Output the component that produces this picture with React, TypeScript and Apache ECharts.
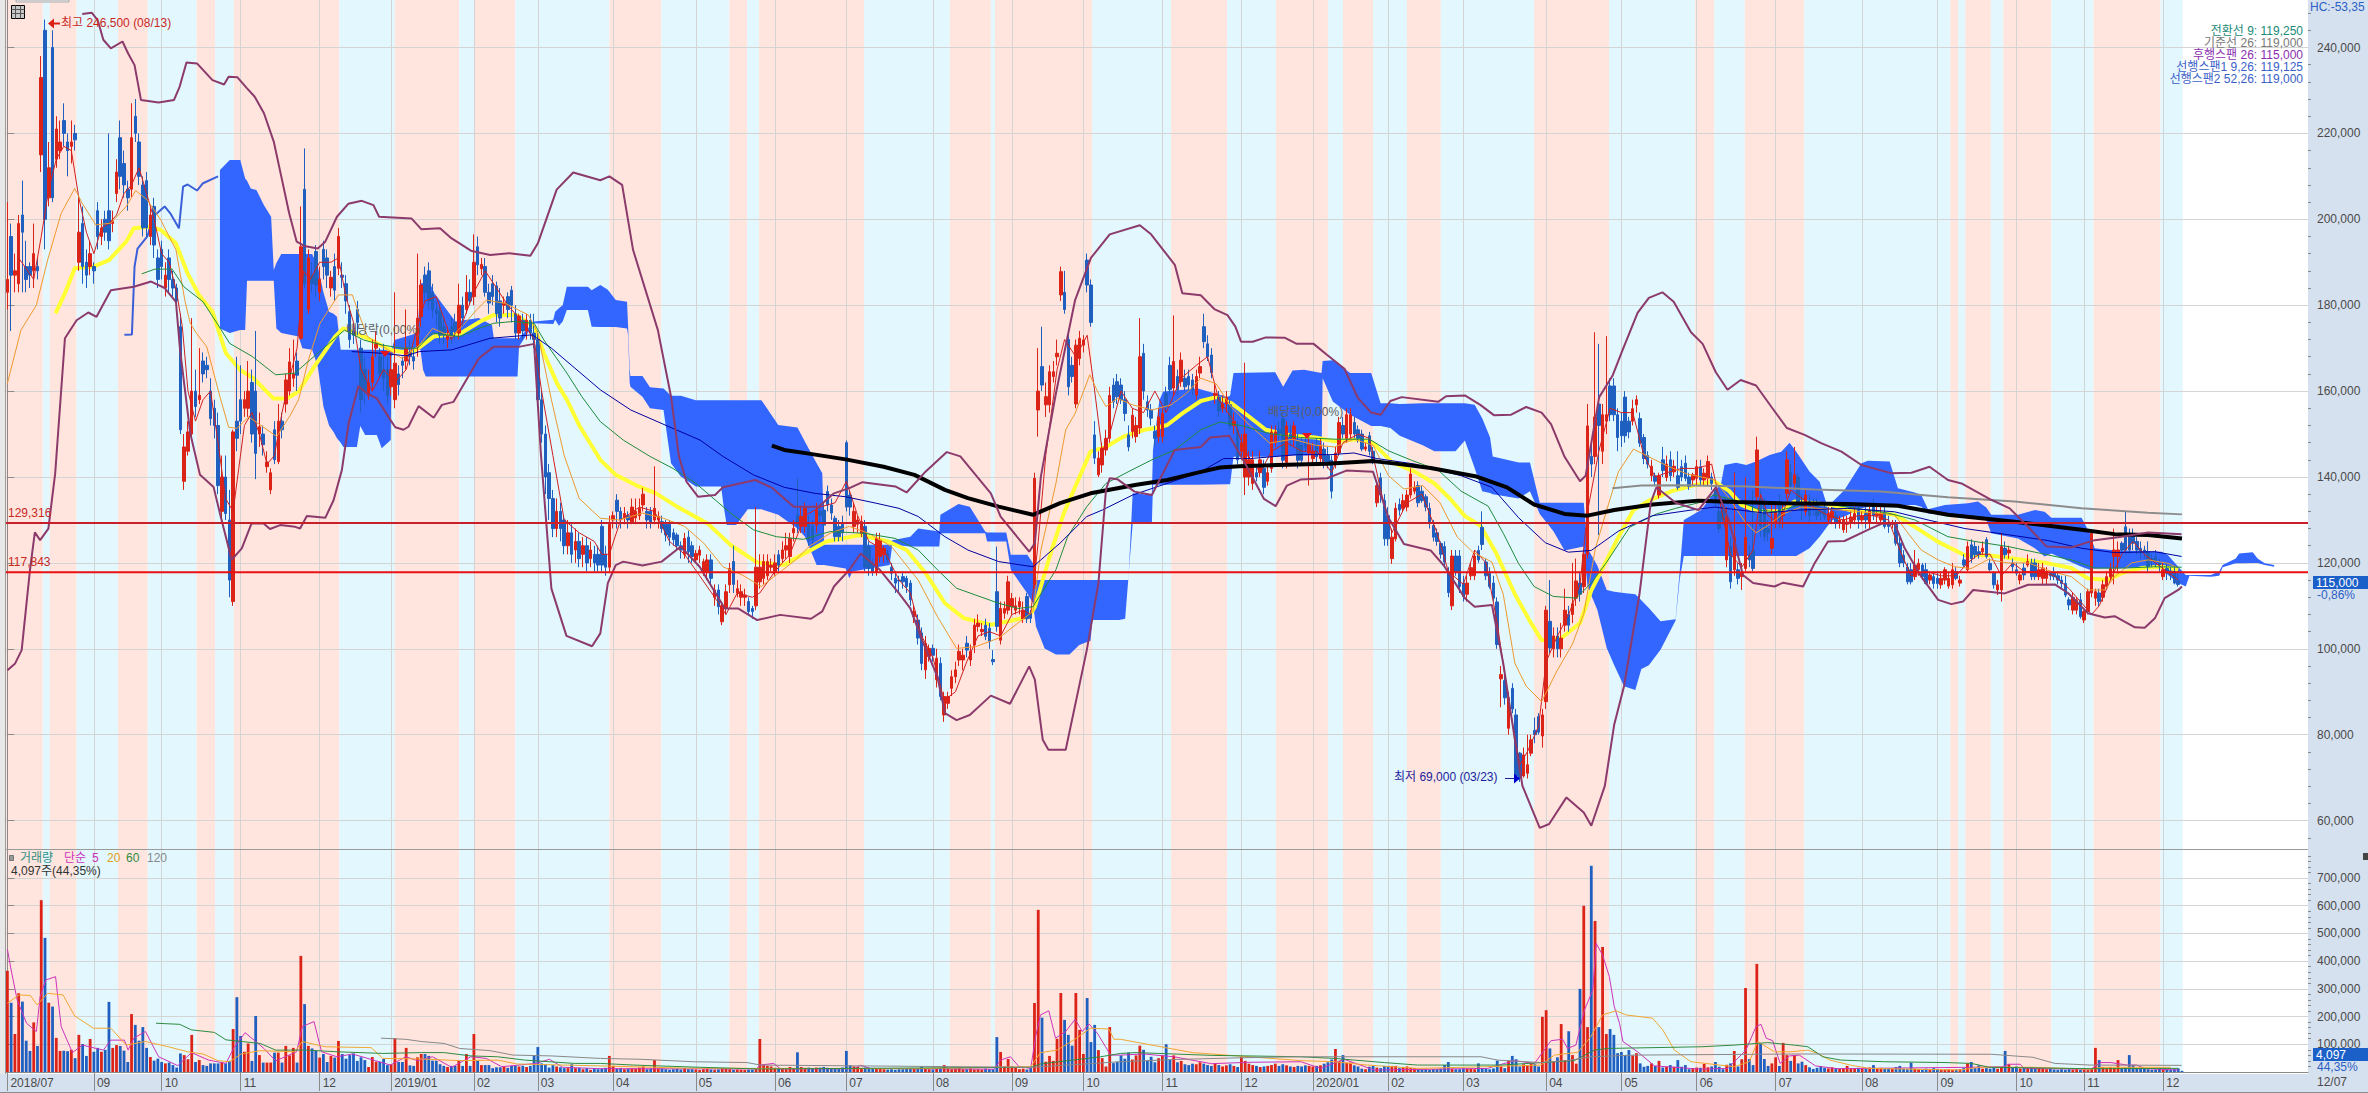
import React, { useEffect, useRef } from "react";
import * as echarts from "echarts";

const W = 2368, H = 1093, PLOT_L = 5.5, PLOT_R = 2308, SLOTS = 612;
const FONT = '"Liberation Sans","Noto Sans CJK KR",sans-serif';

const MONTH_LABELS = ["2018/07","09","10","11","12","2019/01","02","03","04","05","06","07","08","09","10","11","12","2020/01","02","03","04","05","06","07","08","09","10","11","12"];
const MONTH_INDEX = [0,23,41,62,83,102,124,141,161,183,204,223,246,267,286,307,328,347,367,387,409,429,449,470,493,513,534,552,573];
const PRICE_TICKS = [60,80,100,120,140,160,180,200,220,240];
const VOLUME_TICKS = [100,200,300,400,500,600,700];

// shaded periods: edges on the day axis, pink / blue alternating
const BAND_EDGES = [-0.4,9.4,11.3,18.4,29.4,37.3,50.3,55.2,60.2,88.2,103,120.1,124.2,135,160,173.8,191.9,196.6,199.8,227.7,250.5,261.4,262.5,288.3,309.3,324.2,337.2,351,355,363,372,381,405.8,425.7,448.6,453.7,461.8,477.6,516.4,518.5,520.4,527.2,530.5,543.3,554.5,572.3,578.2];

// candles in thousands: open, close, low, high
const CANDLES = [
[183,186,179,204],[196,187,174,199],[187,188,183,192],[185,199,183,201],[201,197,183,209],[189,186,183,195],[189,187,184,190],[188,192,184,199],[189,188,186,191],[215,233,211,238],
[244,200,193,246.5],[205,212,203,218],[240,205,204,244],[214,221,212,224],[216,218,214,223],[223,220,217,227],[218,216,210,220],[217,218,213,223],[220,218.5,216,222],[190,197,188,205],
[199,189,185,203],[190,187,184,193],[189,192,187,195],[189,188,185,190],[202,196,193,204],[196,198,194,200],[200,197,195,202],[202,195,193,220],[199,199.5,197,202],[206,211,204,214],
[219,210,207,223],[213,208,205,216],[207,205,202,209],[207,219,205,227],[224,220,218,228],[218,210,208,220],[208,198,196,210],[209,198,196,211],[196,201,194,203],[203,194,191,205],
[191,186,184,193],[193,189,186,195],[184,187,182,190],[191,186,183,193],[186,184,182,188],[184,181,178,185],[175,151,150,178],[139,147,137,150],[146,150.5,145,153],[150,160,149,177],
[160,156.4,154,165],[158,159,157,170],[167,164,162,169],[166,165,163,168],[160,153.6,152,163],[156,152,149,158],[152,138,136,155],[132,140,130,145],[140,131.5,130,145],[130,116,112,137],
[111,150.5,110,151],[153,149,146,168],[158,153,150,166],[156,158,154,160],[156,160,154,167],[162,150,148,165],[160,145.5,139.5,174],[150,151.7,147,155],[150,147.5,145,152],[142.4,143.5,141,146],
[137,141,136,142],[151,144,143,153],[143.6,153,143,157],[153,151,149,155],[157,162.6,155,164],[160,166.8,159,170],[163,164,161,172],[167,163.7,160,169],[172.3,193.6,172,203],[207,185,184,216.5],
[179,191,178,193],[187,185,183,190],[192.5,184.7,182,194],[183,186,181,189],[193,189,186,195],[191,187,184,193],[184,186.5,182,188],[189,183.5,181,192],[188.6,196,187,198],[187,186.5,184,190],
[185,181,178,187],[178.5,172,170,180],[174,173,171,176],[179,176,173,181],[170,158,155,172],[165,160,157,168],[159,162,158,165],[162,168,160,172],[170,171,168,174],[168,164,163,170],
[165,163,160,171],[165,159,157,168],[161,165,159,169],[158,166.5,156,183],[164,161.5,159,166],[167,166,163,168],[167,170,165,179],[169,168,166,172],[168,167,165,170],[170.4,177,168,192],
[177.3,184.7,175,186],[187,183,181,189],[188,181,179,190],[183,179,177,185],[179,178,175,181],[178.5,173,171,180],[175,173,171,177],[172,173,170,175],[175,173,171,177],[176,174,172,178],
[173.5,180,172,185],[180,177,175,182],[179,183,178,187],[183,181,180,186],[182,190,180,196.5],[193.6,189.4,187,196],[188.5,189.5,187,191],[189,183,182,191],[183,180.5,178,185],[185,182,180,187],
[184.5,178,176,185.5],[181,177,175,184],[180,180.5,178,182],[182,179,177,183],[183.5,180,176,184.5],[178,173.5,172,180],[173.5,177.5,172,178],[176.5,174,172,178],[174,176.5,172,178],[176.5,173.5,172,178],
[173.5,172,170,178],[172,158,156,174],[158,150,148,160],[150,140,136,152],[141,135,130,143],[135,128,126,137],[128,132,126,135],[132,128,125,134],[130,124,122,131],[124,127,122,130],
[127,122,120,129],[123,125,120,128],[125,121,119,127],[122,124,119,126],[124,120,118,126],[121,123,119,125],[122,120,118,124],[122,119.5,118,124],[128.5,119.5,118,130],[122,119,117,124],
[119,129,118,131],[130,131,128,132],[134.6,132,128,136],[132,130,128,133],[130.5,131.5,129,133],[131,130,128,132],[129.5,133,129,135],[130.5,132,129,135],[131,132.7,130,135],[133.5,136,132,137.5],
[132,130,128,133],[132,129.5,128,133],[130,132.7,129,142.5],[130,130.8,128,132],[129.6,128,127,131],[129,126.5,125,130],[129,126,124,130],[127,125.4,124,128],[126.5,124,123,127],[124,123,121,125],
[122,125.7,121,127],[126,122.6,120,127.5],[124,121.5,120,125],[120.7,122.2,120,123],[121.8,123,120,124],[118,120.3,117,121],[118,120.7,116,122],[120.7,116.4,115,122],[112,113.7,110,115],[113.7,109.8,108,115],
[106.3,110,105.5,111],[109.4,113.3,108,115],[114.9,118.7,113,120],[120.3,115,113,124],[113,114,112,116],[112,113.3,110,115],[112,112.5,110,114],[111,108.7,108,112],[109.4,108.7,107,110],[110,119,109,133],
[115.6,119,114,122],[116.4,120.3,115,122],[117,120.3,116,122],[119,119.5,118,121],[118,120,117,122],[121.9,119.5,118,123],[121,123,120,125],[123,124,121,127],[121.5,125.7,120,127],[127,128,125,130],
[131.2,128.8,127,139.7],[128.5,130.8,127,133],[128.5,132.7,127,134],[129.2,125.3,124,131],[128.5,125.3,124,130],[128.8,132.3,127,134],[132,131,129,133],[132.3,128.8,127,134],[136.6,133.5,132,138],[133.5,131.6,130,135],
[130.4,126.1,125,131],[128.5,126.1,125,130],[129,127,125,131],[148,133,132,148.5],[135.8,133,131,137],[128.5,132,127,134],[129,130,127,131],[126.9,129.6,126,131],[128.5,119,118,130],[123.8,118.7,117,125],
[119.9,118,117,121],[118,125.7,117,127],[121.5,125.3,120,127],[121.9,123.4,120,124],[122.2,120.7,120,123],[119,117.6,116,120],[116.4,115.3,113,118],[116,115.8,113,117],[116.8,115.6,114,118],[116.4,114.5,113,117],
[115.3,111.4,110,116],[107.5,108.7,106,110],[106.7,102.5,101,108],[103.7,96.6,95,105],[95.1,101.3,93,103],[98.2,100.1,97,101],[100.1,98.5,97,101],[92.8,97.8,91,100],[96.6,88.9,88,98],[84.6,88.9,83,90],
[87.3,88.9,86,90],[90.8,93.5,89,95],[93.5,95.1,92,97],[97.4,99.4,96,101],[97.4,98.5,95,100],[101.3,99.7,98,103],[97.4,99.4,96,101],[100.9,105.5,99,107],[105.2,106,104,108],[104,104.5,103,106],
[105.5,102.9,102,107],[104.8,101.7,100,106],[97.5,97,96.2,99.7],[113.3,105.2,104,123.8],[102,109.4,101,111],[108.3,109.4,107,111],[109,115.6,108,117],[109.8,111.7,108,113],[109,110,108,112],[109.8,111,108,112],
[107,109,106,111],[112.2,107,106,113],[108.3,107.1,106,109],[115,139.7,114,141],[155.6,160,149.4,170],[165.7,161.4,160,175],[156.8,158.7,154,162],[156.8,164.5,155,166],[163.4,164.5,162,167],[168,168.8,166,172],
[182.4,187.8,181,189],[183,179,178,188],[172,161,159,174],[166,163.4,162,168],[157,170.7,156,172],[167.6,172.3,166,174],[170.7,171.9,169,173],[190.5,184.7,183,192],[184.7,176,175,186],[149.8,144.4,143,153],
[140.5,144.4,140,146],[142.8,146.7,141,148],[146.3,149,145,151],[149,159,148,161],[161.4,157.5,156,163],[162.2,158.7,157,164],[161.4,158,157,163],[158,154.8,153,160],[149.8,147,146,152],[150.6,154.4,149,156],
[149.4,152,148,154],[151.4,168,150,177],[168.8,160,158,171],[157.5,155.6,154,159],[155.6,153.7,152,157],[150.6,149,147,152],[149.4,154,148,156],[149.4,154.8,148,156],[159.5,156.4,155,161],[166,160.3,159,168],
[160.7,166.9,159,177.6],[163.4,160.3,159,165],[162.2,167.2,161,169],[163,161,160,165],[163.4,161.4,160,165],[162.6,160.3,159,164],[159.1,163.4,158,165],[164.2,165.7,163,168],[175,171.5,170,178],[171,168,167,173],
[168.4,164.3,163,170],[159,159.5,157,162],[158.6,155.4,154,160],[156,157,155,159],[157,158.6,155,160],[156.8,151.9,151,158],[152,153,150,155],[151,144,143,153],[146,148,144,150],[140,150,135.8,166.6],
[140,144,138,146],[138.5,144,137,146],[141,140,139,143],[141,144,140,146],[142,137.6,136,144],[139,141,138,143],[142,150.5,141,152],[148,150.5,147,152],[151,150,148,153],[153.6,143.9,142,155],
[143.4,151.9,142,153],[150,149,147,152],[148.8,151.9,147,153],[148.3,143.9,142,150],[147.4,143.9,143,149],[147.9,147,146,149],[145.6,147.4,138,149],[144.3,146,143,148],[147.4,144.7,143,149],[144.3,147.4,143,149],
[146.5,143,142,148],[145,143,142,147],[143.9,136.7,135,145],[143,145.6,142,147],[145.6,152.7,145,154],[152,150,149,154],[149,154.5,148,156],[150,154.5,149,156],[152.7,150,149,154],[151,149,148,152],
[150,146.5,146,151],[146.5,147,146,148],[149.6,146,145,150.5],[146,144,143,147],[134,138,133,139],[139.8,135.8,134,141],[134.5,125.6,124,136],[131,125.6,124,133],[121,126,119.8,128],[125.6,132.7,125,134],
[133.6,132.3,131,135],[132.7,134.5,132,136],[133,135.8,132,137],[135.8,140.7,135,142],[136.7,137.6,136,139],[138,134,133,139],[136.7,134.5,134,138],[135.4,133,132,136],[132.7,129.2,128,134],[128.7,126,125,130],
[127,125,124,128],[124.5,122,121,125],[123.8,120.2,119,125],[117.6,113.1,112,119],[110,121.6,109,123],[121.6,118,117,123],[121.6,114.5,113,123],[115.3,112.2,111,117],[112.7,115.3,111,117],[117,118.9,116,120],
[117,121.6,116,123],[122.9,120.7,120,124],[128.3,124.3,123,132],[120.2,117,116,121],[117.6,114.5,114,119],[115.3,111.8,111,117],[110.9,101,100,112],[93,94,86.4,96],[92.6,88.6,87,94],[81.5,88.6,80,90],
[90.8,86,85,92],[84.6,70.4,70,86],[75.7,69.9,69,76],[70.4,75.3,70,77],[71,73,69.8,80],[75.7,78.8,75,80],[81,80,78,84],[84.2,80.6,80,85],[79.7,84.6,77,86],[87.7,109,86,110],
[106.4,100.2,99,116],[100,103,98,105],[103,100,98,105],[100,102.5,98,106],[105.5,109,104,114],[108,105.5,104,110],[108,110.5,106,120],[111.8,115.8,110,121],[115.3,112.7,111,118],[114.5,122,113,123],
[122,151.9,121,157],[144.8,143,140,148],[144.8,154,143,173.7],[157,152,126.5,171],[146,154.5,143,157],[153,154.5,150,172.8],[161.2,154.5,153,163],[161.2,154.5,153,163],[154.5,149.2,146,156],[153,149.6,147,155],
[158.6,149.6,148,160],[153,150.5,149,154],[153,155.9,152,158],[156.8,158,155,159],[153.6,147.9,147,155],[149.2,144.3,143,150],[145,143,142,146],[140.3,142.5,139,144],[140.3,139,138,141],[135.8,140.3,135,141],
[144,141.5,140,147],[139.9,143,139,145],[144,140.3,139,146],[141.2,142.5,140,144],[140.3,137.6,137,146],[142.4,140,139,144],[143.2,139.7,139,145],[140,137.8,137,141],[139.3,140.5,138,141],[139.7,142.4,138,144],
[142.4,139.3,138,144],[139.3,140.9,138,142],[139.7,143.6,138,145],[140,138.5,137,141],[137,135,133,138],[132,128,127,134],[133,130,129,135],[120.7,130.8,119,133],[123.8,115.6,114,126],[118.4,126,117,141],
[118.4,116.4,115,120],[116.8,117.6,113.7,120],[118.7,126,118,140],[122,120.7,119,124],[123,118.7,118,137],[135.4,146.3,134,149.4],[135,128.5,126,137],[133.9,126.1,125,135],[128,127,125,130],[123.4,125.7,122,134],
[129.2,132,128,134],[134,130,128,136],[131,132,128,134],[136.2,144,135,146],[141,138,136,143],[138.5,140.5,137,147],[140,134.3,133,141],[134,133,130,136],[132,135.8,131,137],[134.3,131,129,136],
[133.9,132.4,131,135],[133.9,131,130,135],[132,131.5,130,133],[132.3,130.8,130,134],[130,131.5,129,133],[130.5,132,129,133],[131,129.2,128,132],[129.2,130,128,131],[127.7,130,127,131],[129,129.5,127,131],
[129.2,130.7,128,132],[130,131.5,129,133],[132.3,130,128,133],[130,131,129,132],[131.5,130,128,133],[129.2,132.3,128,134],[133,131,130,135],[131,131.5,129,133],[130,131.5,129,133],[131.5,128.5,128,133],
[129,128.5,127,131],[129,129,128,130],[129,124.6,124,130],[124.6,120,119,126],[121.8,120,119,123],[119,115.6,115,120],[118.4,115.6,115,120],[116.8,119.5,116,123],[118.4,119.9,117,121],[119.5,116.8,116,120],
[118.4,115.2,115,120],[116,117.2,115,118],[116.8,115.2,114,118],[116.4,115.2,114,118],[114.9,116.4,114,118],[116,118.4,115,119],[114.6,116.4,114,118],[114.9,118.4,114,120],[118,116.4,116,119],[115.3,116,114.5,117],
[120.7,119.5,119,122],[118.4,123.8,118,125],[124.2,121,120,125.5],[123.8,121.9,121,125],[122.6,121.9,121,124],[122.6,123.4,122,125],[125.4,121.5,121,126],[119.9,118.4,118,121],[117.6,114.9,114,118],[113.7,114.9,112.5,116],
[113.7,123.8,111,127],[123.4,121.9,121,125],[122.3,123,121,124],[120,119.1,118,121],[118.4,117.6,117,120],[116,117.2,115,118],[118.8,117.2,116,120],[119.5,120.3,119,122],[120,116.8,116,121],[120,116.8,116,121],
[116.8,118.4,116,120],[116.4,118.8,115,120],[116.4,118,115,119],[117.6,117,116,118],[117.6,116.8,116,119],[117,116,115,118],[116,115.2,114,117],[115.2,112.5,112,117],[111.4,110.2,109,112],[109,112,108,113],
[109,111.4,108,112],[111.4,107.5,107,113],[106.7,108.7,106,109],[108.7,113.3,108,114],[113,126.9,112,127],[111.8,113.3,110,114],[113,111,110,114],[112,114.9,111,116],[114.5,116.8,114,118],[116.8,118.7,116,120],
[121.5,123,115,128],[121.5,123,118,125],[124.6,123,122,125],[128.4,123,122,132],[126.9,123,122,128],[126.5,124.6,123,128],[125,123,122,126],[123.4,122.3,121,125],[123,122.5,121,124],[122.6,119.1,118,125],
[121,120.5,119,122],[121.5,120.3,119,123],[120,119.5,118,121],[116.8,118.4,116,120],[118.7,117.6,116,120],[118,117.2,116,119],[118,115.3,115,119],[115.8,115,114.5,117.5],
];

// volume in thousands of shares, one value per candle
const VOLUME = [
365,250,137,284,254,113,76,179,94,620,484,250,236,123,76,77,75,80,50,134,
101,58,119,73,87,73,80,253,87,97,94,77,36,209,170,113,162,87,54,41,
48,36,31,34,25,16,67,61,46,134,36,43,25,22,31,31,31,35,31,40,
155,270,130,73,103,40,202,61,34,34,34,70,70,34,94,60,87,34,419,245,
94,85,78,52,65,36,58,52,112,65,48,61,67,40,53,43,18,54,37,37,
47,25,28,122,36,36,87,24,22,53,65,65,58,41,41,28,22,18,22,22,
41,22,65,22,137,43,25,25,25,14,17,17,20,15,22,22,20,22,18,22,
61,90,31,28,16,25,20,17,14,14,28,14,15,10,14,8,12,10,12,15,
58,22,12,14,10,12,14,12,16,20,10,12,43,12,12,10,8,10,12,9,
14,10,10,9,7,10,12,9,8,9,14,12,10,8,9,8,7,8,8,10,
119,25,22,20,15,13,13,10,18,14,71,18,15,16,14,16,16,18,15,14,
12,14,16,76,24,20,18,14,16,14,13,12,14,10,9,10,8,10,10,12,
14,12,13,19,12,10,9,12,14,25,12,10,12,14,10,10,12,9,10,8,
12,10,10,126,72,20,47,20,15,10,12,9,14,249,585,196,37,58,40,120,
285,188,134,95,285,152,65,267,108,170,79,50,20,162,32,37,60,48,70,45,
60,95,80,40,55,35,50,60,100,45,60,35,40,28,25,30,28,35,30,25,
22,30,25,20,24,28,22,18,55,40,30,25,22,18,20,22,25,30,22,28,
24,20,18,22,20,24,22,20,22,24,30,35,45,83,40,61,34,34,24,20,
12,10,19,22,16,14,22,22,22,22,14,18,20,15,14,10,9,10,8,10,
10,12,25,36,12,10,10,13,12,12,10,31,13,12,10,13,41,20,14,41,
58,46,20,28,25,31,28,20,199,223,85,37,53,173,43,147,61,30,300,600,
162,744,545,162,451,137,155,134,68,72,61,79,60,68,31,19,22,31,22,40,
16,19,25,19,43,19,25,10,14,16,15,29,17,20,36,19,10,26,31,76,
20,46,303,47,25,390,101,47,22,31,53,22,105,61,40,61,31,37,25,17,
11,15,20,15,13,17,14,12,14,22,12,14,15,14,12,16,25,14,15,13,
14,12,18,22,12,10,34,12,10,9,12,10,14,11,8,9,10,8,9,10,
14,31,36,14,24,12,14,12,16,12,18,76,28,18,20,13,15,14,18,12,
14,11,10,14,9,8,10,8,10,9,13,8,9,7,12,87,43,18,13,18,
15,43,14,16,61,25,13,15,11,10,8,9,13,8,9,8,10,13,4.1,
];

const BOLL_UPPER = [[19.9,247.8],[22.4,248.1],[24,246.4],[25.5,241.8],[27.5,239.8],[30.6,241.4],[32.1,238.6],[33.8,235.9],[35.5,227.8],[40.2,227.2],[44.3,227.8],[45.8,230.9],[47.6,236.5],[50.4,236.3],[54.5,232.4],[57.6,231.4],[58.8,233.2],[61.1,233.1],[63.7,230.5],[65.7,228.6],[68.2,224.7],[70.8,218.1],[72.8,210],[74.9,201.4],[76.9,194.8],[78.9,193.8],[82.5,193.2],[84.5,194.8],[87.6,200.6],[90.6,203.6],[94.2,204.3],[97.3,203.3],[98.8,200.6],[107.4,200.2],[110,197.7],[115,197.9],[118,195.6],[123.2,192.7],[128.3,191.7],[133.4,192.1],[139,191.5],[141,194.4],[146,206.9],[150.4,210.9],[157.6,209.1],[160,210],[163.4,208],[166.3,192.9],[172.9,174.2],[176.4,158.7],[178.5,144.8],[180.5,138.9],[183.6,135.4],[188.1,135.8],[190.2,137.6],[198.8,139.3],[203.4,137.4],[209,133.1],[215.6,133.1],[219.7,136.2],[223.8,137.4],[227.3,138.8],[236,137.8],[239,136.4],[244.1,141.3],[249.7,145.8],[253.3,144.8],[261.4,136.2],[264,130.8],[271.6,122.6],[273.1,124.6],[274.7,140.1],[278.7,159.5],[283.8,181.2],[288,191],[293,196.5],[301,198.6],[304,196.5],[307.2,192.9],[310.3,189.4],[312.3,182.8],[317.2,182.3],[320.8,179.1],[324.3,177.7],[326.4,175],[327.9,171.5],[331,171.5],[334.5,172.5],[339.6,172.4],[342.7,171],[347.2,171],[350.8,168.4],[355.4,165.2],[358.9,158.5],[362.5,155],[365,154.5],[367.6,157.7],[370.6,158.6],[380.3,157.5],[382.4,158.8],[387.4,159],[391.5,156.8],[395.1,154.4],[399.7,154.5],[403.7,156.3],[407.8,155],[410.3,152.3],[413.9,144.7],[418,139],[419.5,140.3],[423.1,158.6],[426.6,163.5],[429.2,169.3],[433.3,178.2],[436.3,181.7],[439.9,183],[442.9,180.8],[447.5,173.7],[450.6,171],[454.1,164.4],[457.2,160.3],[460.7,162.6],[464.8,161.3],[468.9,156.3],[473,151.4],[477.7,149.8],[482.1,147.9],[487.5,145.9],[492.8,142.8],[500.7,140.9],[506.1,141],[510.9,142.4],[515.8,139.3],[519.4,138.5],[527.3,134.7],[532.2,132.7],[537.1,128.4],[542,123.8],[548.6,123.6],[554.8,125.3],[561,126],[569,127.1],[577.9,126.7]];

const BOLL_LOWER = [[0,95],[2,96.5],[3.8,99.7],[6,118.3],[7.3,127.1],[8.7,125.3],[10.9,128],[12.7,140.8],[15.3,172.3],[18.4,176.5],[21.5,178.3],[23.7,177.3],[27.5,183.5],[33.6,184.3],[38.2,185.5],[41.8,184],[44.8,180.8],[45.9,169.6],[48.6,150.2],[51.2,140.5],[54.8,137.7],[56.5,131.5],[58.3,125.3],[59.6,120.7],[62.3,123.4],[64.9,129.2],[68.1,129.2],[69.8,127.9],[72.5,128.8],[76.5,128.4],[77.8,128],[79.6,130.9],[84.5,130.5],[86.7,134.6],[88.9,141.6],[90.7,152.5],[93.3,161.2],[95.5,159.5],[98.2,158.3],[101.8,153.3],[103.1,151.6],[105.3,151],[106.6,151.7],[109.3,156.5],[113.3,153.8],[115.5,156.8],[118.6,157.5],[121.7,162.2],[125.3,167.6],[129.2,170.3],[135.9,170.3],[140,171],[141.8,145.5],[144.6,114],[148.6,103],[155.4,100.6],[157.6,103.6],[159.6,115.3],[161.7,119.5],[163.7,120.3],[168.8,119.4],[173.9,120.3],[179,123.8],[184,119.1],[190.7,109.4],[194.2,109.4],[199.3,106.7],[205.4,107.9],[213.6,107],[216.6,108.7],[219.7,114.5],[223.8,118.4],[226.8,122.2],[231.9,118.4],[237,112.9],[240,109.4],[243.1,102.1],[247.2,93.5],[249.2,85],[252.3,83.4],[255.8,84.6],[261.4,89.1],[266.5,87.2],[271.6,95.9],[273.1,92.8],[275.2,78.8],[276.7,76.5],[281.3,76.5],[286.9,99.7],[290,115.3],[292,137],[293,139.7],[295,139.5],[299.6,136.6],[304.2,135.8],[310.3,146.3],[317.2,147],[319.7,149.2],[324.8,149.6],[329.4,142.5],[334,134.9],[337.1,133.2],[340.1,138],[343.7,139.4],[350.8,139.7],[355.9,141.5],[363,141.2],[367.1,130.5],[371.2,124.4],[378.3,122.9],[381.8,119.4],[387.4,111.8],[390,109.8],[394.6,110.2],[397.6,96.6],[400.7,78.8],[402.7,68.1],[407.3,58.3],[409.8,59.2],[414.4,65.4],[419,61.9],[421,58.8],[424.6,68.1],[427.1,82.4],[429.7,91.3],[433.8,112.7],[436.8,134],[438.3,137.6],[443.4,134],[449.5,132.3],[454.1,137.6],[457.7,129.6],[461.3,117.2],[464,115.3],[469.7,114.5],[472,115.4],[477.3,114.5],[480.4,120],[483.9,125],[488.3,125.1],[494.5,127.7],[498.1,129.1],[501.6,129.2],[504.3,123.4],[508.7,116.8],[513.2,111.4],[516.7,110.4],[519.8,111],[522.5,113.7],[530.9,112.9],[537.1,114.9],[544.2,115],[547.7,113],[553,108.3],[557.5,107.3],[560.1,107.6],[565.5,105],[568.1,104.9],[570.8,107.1],[573.4,111.8],[577,113.7],[578,114.5]];

const MA_YELLOW = [[12.8,178.1],[15.3,182.8],[17.9,188.6],[22.9,189],[27,190.5],[31.6,194.8],[33.6,197.9],[38.2,198.3],[40.8,197.5],[44.8,194.4],[47.9,187.4],[50.9,182.4],[54.5,178.5],[58.1,168.8],[61.9,164.9],[65.4,163],[70.7,158.3],[74.3,158.3],[77.4,159.9],[81.8,166],[87.1,172.7],[89.3,174.6],[94.7,172.7],[101.8,169.6],[107.1,168.8],[109.7,170.3],[113.3,172.7],[120.4,173.4],[125.7,176.2],[129.2,177.7],[135.4,177.7],[140,175],[142.6,168.8],[146.1,161.8],[148.7,158],[152,152],[157.6,144],[161.7,140.5],[167.8,137.8],[172.4,136.2],[178,133.1],[186.1,129.2],[192.2,124.2],[199.3,120.1],[206.5,119.5],[209.5,121.1],[213.6,123],[217.7,125],[226.8,126.5],[234,125],[239,123],[244.1,117.6],[249.2,110.6],[254.3,107.1],[261.4,105.6],[265.5,106.3],[271.6,107.5],[273.1,109.8],[277.7,123.4],[280.8,131.6],[287.9,145.9],[292,147],[296.6,149.4],[302.2,151],[305.2,151.4],[308.3,152.1],[312.3,154.8],[317.2,157.7],[321.3,158.6],[325.3,157.2],[329.4,154.5],[334.5,151],[341.6,149.6],[347.7,149.2],[352.8,148.3],[358.9,148.8],[363,147.9],[368.1,143.4],[374.2,141.2],[379.3,138.5],[383.4,135],[387.4,130.9],[391.5,128.7],[395.6,122.5],[400.7,112.7],[404.7,106.4],[407.8,102],[412.9,102.4],[418,106],[421,113.6],[424.1,118.9],[428.2,126],[432.2,132.3],[436.3,134.5],[442.4,136.7],[448.5,138.1],[453.6,139],[457.7,136.7],[460.9,133.5],[465.3,132],[471.5,132],[475,134.3],[480.4,133.9],[484.8,133.5],[491,132],[497.2,131.6],[501.6,131.2],[507,128.4],[513.2,124.9],[520.3,121.8],[526.5,121.8],[533.5,121],[542.4,119.9],[548.6,118.8],[553,116.4],[558.4,116],[561.9,117.6],[567.2,118.8],[572.6,119.1],[577,118.4]];

const MA_ORANGE = [[0,161.8],[3.6,174.2],[7.7,180],[10.7,190.5],[14.3,201.4],[17.9,207.2],[19.9,203.7],[23.5,198.7],[27.5,199.1],[31.6,203],[34.1,206.7],[37.2,204.5],[40.8,199.8],[44.8,192.9],[47.2,181],[48.6,175.8],[50.3,173.4],[53,170.3],[56.5,158.7],[58.8,151.6],[61,151.3],[64.1,154],[67.6,151.9],[71.6,149.4],[75.2,154.4],[77.4,158],[80,167.2],[83.1,175.8],[85.4,178.9],[88,182.4],[91.7,182.4],[93.7,177.3],[95.7,172.7],[99.8,170.4],[104.9,167.6],[109.5,170.7],[113,174.6],[118.1,172.7],[121.2,175.4],[124.7,178.9],[127.3,181.2],[132.4,180.4],[138.5,177.7],[141,173.5],[144.6,158],[148,145],[152,135],[157.6,130.4],[162.7,130],[168.8,131.6],[174.4,130.4],[180,128.5],[185.1,124.6],[190.2,119.1],[195.3,117.2],[200.4,114.5],[204.4,117.2],[209.5,120.7],[213.1,123.8],[218.7,126.9],[223.8,128.5],[228.9,126.9],[235,123.8],[242.1,116],[247.2,107.5],[252.3,100.1],[257.4,100.5],[263.5,102.5],[268.6,106],[272.6,108.7],[274.7,123],[278.7,138.5],[281.3,151],[283.8,154.8],[287.7,163.8],[290,159.5],[292,156.4],[295,158.3],[299.1,156.8],[304.2,155.6],[309.3,156.8],[313.4,159.5],[317.2,163],[321.3,161.7],[325.3,156.3],[330.4,151.9],[335.5,147.9],[341.6,148.8],[347.7,147.4],[352.8,147],[357.9,148.8],[363,147.4],[367.1,140.3],[371.2,137.2],[376.2,138],[380.8,134],[385.4,126],[389.5,122.5],[394.6,120.2],[397.6,112.7],[400.7,96.6],[403.7,91.3],[407.8,87.7],[411.9,94.9],[416,101.1],[419,108.2],[422.1,123.4],[425.1,132.3],[428.2,141.2],[432.2,146.5],[436.3,144.7],[441.4,142.5],[446.5,140.7],[453.6,139.4],[457.7,135],[461.8,129.6],[464.8,127],[467.9,128.7],[472,131.4],[476.8,133],[487.5,132.3],[501.6,131.2],[505.2,126.9],[508.7,123],[513.2,120.7],[517.6,119.1],[522,118.7],[526.5,120.8],[531.8,120],[537.1,120],[543.3,118],[548.6,116.8],[553,113.7],[557.5,113.7],[560.1,116.8],[564.6,120],[569,120.7],[574.3,119.9],[577,118.8]];

const MA_GREEN = [[35.7,187.3],[39.2,188.4],[43.8,188.4],[46.9,184.3],[52,180.8],[56,175.4],[59.1,171.1],[65.2,168],[71.3,163.8],[76.4,164.2],[80.5,167.3],[85.5,171.1],[89.6,174.2],[94.7,171.9],[99.8,170.7],[104.9,170],[109,170],[113,173.5],[120.2,172.7],[125.3,174.6],[129.3,175.8],[134.4,176.2],[140,175.8],[142.6,171.9],[148.7,164.2],[152.7,158.7],[157.6,152.9],[163.7,148.6],[170.8,144.8],[176.9,142],[183,138.5],[188.1,134.7],[192.2,131.6],[198.3,127.7],[204.4,126.1],[211.6,125.5],[218.7,127.3],[227.8,126.9],[236,125.7],[242.1,123],[247.2,118.4],[252.3,114.1],[257.4,112.5],[263.5,110.6],[268.6,109.4],[272.6,109.8],[278.7,118.4],[281.8,126.1],[286.9,133.1],[292,138.5],[298.1,141.3],[304.2,144],[310.3,146.3],[317.2,151],[322.3,152.8],[328.4,151.9],[335.5,150.1],[343.7,149.2],[352.8,148.8],[362,148.8],[367.1,146.1],[373.2,143.9],[380.3,141.6],[386.4,136.7],[393.6,133.2],[397.6,126.9],[401.7,119.8],[405.8,114.5],[410.9,112.2],[417,111.8],[421,115.3],[425.1,120.2],[431.2,128.3],[438.3,131.4],[443.4,132.7],[449.5,134],[453.6,135.8],[459.7,134.5],[465.8,132.3],[469.9,131.9],[476.8,133.6],[482.1,133.9],[499.9,131.6],[507,130],[515.8,126.1],[522.9,125],[531.8,123.8],[540.6,122.2],[548.6,120.7],[554.8,118.8],[562.8,118.8],[570.8,119.1],[577.9,119]];

const MA_NAVY = [[91.5,169.2],[99.8,168.8],[105.9,168.2],[109.5,169.2],[118.1,169.6],[128.3,172.3],[139.5,173.1],[144.6,170],[157.6,160.3],[165.7,155.6],[175.9,151.7],[184.1,148.6],[190.2,144.8],[198.3,140.5],[206.5,137.6],[214.6,136.2],[222.8,135.4],[230.9,133.9],[237,132.7],[242.1,130.8],[249.2,126.1],[255.3,123],[263.5,120.3],[272.6,119.1],[279.8,124.6],[286.9,130.8],[291,132.3],[299.1,135.8],[307.2,138.2],[317.2,141.2],[323.3,144.3],[330.4,144.3],[342.7,145.2],[351.8,145.2],[357.9,145.6],[364,144.3],[374.2,143],[386.4,140.3],[394.6,137.6],[401.7,130.5],[408.8,124.7],[414.9,122.5],[421,122.9],[428.2,127.4],[437.3,131],[447.5,132.3],[453.8,133],[467.1,131.6],[475.9,132.3],[489.2,132.7],[501.6,131.9],[510.5,130],[520.3,128],[529.1,126.9],[542.4,125.2],[551.3,123.4],[560.1,122.4],[570.8,122.6],[577.9,121.5]];

const MA_BLACK = [[203.2,147.3],[206.5,146.3],[212.6,145.5],[222.8,144.1],[232.9,142.4],[241.1,140.5],[249.2,137],[255.3,135.1],[263.5,133.1],[272.6,131.2],[279.8,133.9],[287.9,136.2],[300.1,138.2],[308.3,139.3],[317.2,141.2],[322.3,142.2],[327.4,142.5],[337.6,142.8],[350.8,143.1],[363,143.7],[370.1,143],[378.3,142.1],[390.5,140.1],[398.6,137.6],[405.8,133.6],[413.9,131.4],[420,131],[427.1,132.3],[437.3,133.6],[449.5,134.5],[459.7,134.2],[471.5,133.9],[489.2,133.7],[502.5,133.3],[515.8,131.2],[533.5,129.6],[551.3,127.7],[560.1,126.7],[569,126.5],[578,125.7]];

const MA_GRAY = [[426.6,137.4],[434.3,138],[444.9,138.1],[462.6,137.8],[480.4,137.1],[498,136.6],[515.8,135.3],[533.5,134.3],[551.3,132.7],[569,131.7],[578,131.3]];

const MA_RED = [[3,191],[7,186],[9,196],[11,207],[13,214],[15,217],[17,216],[19,205],[21,197],[23,192],[25,198],[27,199],[29,201],[31,206],[33,208],[35,212],[37,206],[39,200],[41,192],[43,190],[45,183],[46.5,175],[48,160],[50,153],[52,158],[54,160],[56,148],[58,135],[60,132],[61.5,142],[63,152],[65,155],[67,150],[69,143],[71,145],[73,155],[75,163],[77,170],[78.7,188],[80.5,186],[83,190],[86,190],[88,191],[90,182],[92,176],[94,165],[97,160],[100,165],[103,162],[106,165],[109,175],[111,181],[114,182],[118,172],[121,176],[124,183],[127,188],[130,184],[133,180],[137,176],[140,172],[142,160],[145,145],[148,130],[152,127],[156,125],[158,122],[160,122],[163,130],[168,133],[172,132],[176,125],[180,122],[184,117],[188,112],[191,108],[194,113],[198,112],[200,113],[204,118],[208,122],[212,131],[216,133],[220,134],[223,139],[226,131],[229,125],[233,123],[237,116],[240,113],[243,103],[246,98],[249,88],[252,90],[255,97],[258,103],[261,104],[264,103],[267,108],[270,109],[272,108],[274,125],[276,145],[279,165],[281,172],[284,168],[287,173],[289,160],[291,146],[293,150],[296,160],[299,156],[302,155],[305,160],[308,155],[312,163],[316,166],[319,168],[322,158],[326,153],[329,146],[333,141],[336,146],[340,148],[344,146],[348,146],[352,141],[355,148],[359,150],[362,149],[365,137],[368,127],[372,134],[376,136],[380,127],[383,118],[387,115],[390,123],[393,120],[396,106],[399,88],[402,73],[404,76],[407,82],[409,97],[412,103],[415,108],[418,115],[420,132],[423,146],[426,156],[429,155],[432,155],[435,145],[438,140],[441,141],[445,142],[449,142],[453,143],[455,135],[458,122],[461,119],[464,123],[466,136],[468,131],[471,129],[474,137],[477,135],[480,133],[484,131],[488,130],[492,131],[496,131],[500,130],[503,123],[506,117],[510,118],[514,117],[518,117],[521,120],[524,122],[527,122],[530,117],[533,120],[536,118],[540,118],[544,117],[548,114],[551,111],[554,108],[556,110],[559,116],[562,122],[565,125],[568,122],[571,120],[574,118],[577,116]];

const SPAN_LEAD = [[31.1,173.1],[33.1,173.2],[33.8,189],[34.6,193.2],[37.2,196],[38.7,200.6],[41.8,203],[43.3,201.4],[45.6,197.9],[46.7,207.6],[47.9,208.1],[50.4,206.7],[52,208.4],[56,210]];

// ichimoku cloud: day, upper edge, lower edge
const CLOUD = [[56.5,211.5,174.6],[59.1,213.8,173.5],[61.9,213.8,174.2],[63.2,209.5,174.2],[63.7,209,185.7],[64.7,207.2,185.7],[66.2,206.8,185.7],[68.2,203.3,185.7],[70.1,200.6,185.7],[70.8,188.2,185.7],[71.5,189.8,174.6],[72.8,191.9,173.5],[77.4,191.9,172.7],[78.4,191.9,170],[81,191.9,169.6],[82.5,189,165.7],[84,183,156.4],[85.5,178.5,152],[86.7,178,150.5],[87.6,177.3,149],[88.6,169.6,148],[89.3,169.6,147],[92.9,169.6,147],[93.8,169.6,151.9],[95.1,169.6,149.8],[98.2,169.6,149.8],[99.5,169.6,146.7],[101.9,169.6,148.6],[102.1,169.6,168],[102.9,171.9,169.6],[109,173.5,169.6],[109.8,185.1,169.6],[110.5,185.1,164.9],[111.2,187.4,163.4],[113.5,182.8,163.4],[119.1,176.2,163.4],[125.3,177,163.4],[128.8,175.4,163.4],[129.3,172.3,163.4],[135.6,172.3,163.4],[136,172.3,170.4],[140,176.2,175.8],[145.1,176.6,175.6],[145.6,178.5,176.6],[146.6,179.3,175.2],[147.6,180,176.2],[148.7,184.3,178.9],[154.3,184.3,178.9],[155.3,183.5,175],[157.6,184.7,174.9],[159.6,183.6,174.9],[161.7,181.2,174.9],[164.7,180.8,174.6],[165,175,173],[165.4,165,162],[165.6,163.5,161],[168.8,163.5,158.7],[170.8,160.9,156],[174.4,160.6,155.6],[176.4,158.9,143.2],[179,158.9,140.1],[183,157.9,137.8],[189.7,157.9,137.8],[190.4,157.9,133.1],[191.2,157.9,128.8],[193.7,157.9,128.8],[196.8,157.9,132.5],[200.4,157.9,132.5],[204.9,152.1,131.2],[210,151.5,128],[212,148.2,126.1],[215.1,143.2,119.5],[216.6,140.9,119.5],[217.1,124.2,119.5],[222.8,124.2,118.7],[223.8,124.2,116.4],[224.6,124.2,118],[234.5,124.2,119.5],[235.2,125.3,124.2],[240,126.1,123.8],[242.1,128,123.8],[247.7,127.3,123.8],[248,131.2,126.9],[252.8,133.7,126.9],[255.8,133.1,126.9],[259.9,127.3,126.9],[260.4,127.1,125],[265.5,127.1,125],[266.7,121.9,118.4],[271.1,121.9,112.9],[272.6,119.9,110.6],[273.4,116,105.2],[275.7,116,100.1],[278.7,116,98.7],[282.3,116,98.7],[284.9,116,100.9],[287.9,116,101.9],[288.4,116,106.7],[295.5,116,106.7],[297.1,116,107],[297.9,116,115.8],[298.1,118.4,118.2],[299.1,136.2,129.1],[304.2,135.8,129.1],[304.5,146.3,138.2],[306.2,157.9,138.2],[307.2,159.9,138.2],[316.4,160.6,138.2],[324.3,158.6,138.3],[325,159,138.3],[325.9,164.2,144.7],[337,164.4,144.7],[339.1,161,144.9],[341.6,164.8,145],[344.7,165,145],[349.3,164.2,145.2],[349.6,167,163],[352.3,167.2,157.6],[356.9,164.2,154.5],[362.5,164.2,151.9],[365,157.2,151.9],[367.6,157.2,151.4],[370.1,157,149.6],[376.2,157.2,147.4],[379.3,157.2,146],[384.9,157.2,146],[387.4,157.2,148.5],[390,156.8,142.1],[392,153.7,136.7],[394.1,149.2,136.3],[394.8,144.8,136],[401.7,143.4,135],[404.7,143.4,136.7],[407.3,134,131.4],[410.9,134,127.4],[413.9,134,122.9],[419,134,123.8],[420,123.4,114.5],[422.6,119.4,109.1],[425.1,113.7,100.2],[427.1,113.3,96.2],[429.7,113,91.3],[432.7,112.7,90.4],[434.3,111.3,95.3],[436.3,109.5,96.2],[439.4,106.4,99.8],[443.4,106.9,106.6],[444.5,118,116.2],[445.6,130,121.6],[450.2,132.3,121.6],[453.8,136.6,121.6],[455.5,138.5,121.6],[456.4,142.8,121.6],[459.5,143.3,121.6],[462.2,142.8,121.6],[464.8,143.6,121.6],[468.4,145.1,121.6],[471.5,145.9,121.6],[473.7,148,121.6],[475.5,145.9,121.6],[479,141.3,123.4],[481.7,138.9,126.1],[484.3,131.6,129.2],[485.2,134.3,130],[488.3,137,130.8],[492.8,143.2,132.7],[494.5,143.8,133],[500.3,143.6,133.5],[502.5,137.4,133.5],[507,136.4,133.5],[508.7,135.8,133.1],[510.5,132.5,131.5],[515,133.5,131.2],[521.1,133.9,130.4],[523.8,134.3,130.2],[526,132.9,130],[527.3,131.2,126.9],[534.4,131.2,125.7],[538.9,132.3,123.4],[541.5,131.9,121.5],[543.3,130.5,122.2],[551.3,130.5,119.1],[553.5,126.9,118.4],[554.8,123.4,118.7],[559.2,123,118.7],[572.6,122.6,119.1],[574.3,121.8,117.2],[577,119.1,115.3],[579,117.2,114.5],[580,117.2,117],[585.7,117.2,116.8],[587.9,118,117],[588.8,119.5,119],[592.3,121,119.9],[593.2,122.2,119.9],[596.8,122.5,120],[598.1,121,120],[600,119.9,119.5],[602.5,119.5,119.1]];

const VOL_MA5 = [[0,443],[1,368],[2.6,260],[5.1,176],[7.7,146],[8.7,272],[10.2,332],[12.8,344],[14.3,164],[17.3,70],[19.9,97],[25.5,79],[27.5,115],[31.1,115],[32.1,79],[33.6,122],[36.7,146],[40.2,55],[45.3,23],[48.9,70],[53.5,43],[58.1,31],[60.1,85],[63.2,142],[68.2,85],[71.3,40],[76.9,73],[78.4,164],[81.5,182],[83.5,73],[87.6,55],[91.7,65],[97.8,41],[101.8,25],[105.9,55],[109,41],[113,55],[118.1,17],[123.2,55],[127.3,49],[131.4,19],[140.5,31],[144.1,46],[147.6,17],[157.6,12],[199,11],[200.2,25],[203.7,31],[205.5,11],[225,12],[226.7,24],[229.4,13],[262.2,10],[264,43],[266.6,55],[268.9,19],[272,13],[273.3,128],[274.6,206],[276.8,221],[278.6,122],[281.3,146],[283.8,190],[285.7,146],[287.5,173],[289.7,140],[291.9,91],[293.2,61],[295.9,61],[302,65],[310,55],[320,30],[330,35],[343.8,37],[349.1,13],[355.3,46],[363.3,7],[393.4,13],[400.5,41],[405.9,31],[408.5,79],[410.3,113],[413.4,118],[414.7,85],[416.9,97],[419.2,224],[421.4,296],[422.3,464],[424,422],[425.8,344],[427.1,236],[428.5,176],[429.4,110],[433.3,73],[437.8,22],[450.2,10],[457.3,13],[462.1,79],[464.8,164],[466.1,172],[467.5,122],[469.2,113],[471.2,31],[473.7,58],[476.3,61],[480.6,22],[486.3,12],[522,17],[530.7,19],[531.7,28],[535,28],[536,13],[553.8,10],[556.2,34],[559.1,34],[563.5,25],[565.9,25],[568.3,12],[577,7]];

const VOL_MA20 = [[0,248],[3.1,278],[6.1,276],[7.9,242],[10.7,284],[14.8,278],[17.9,202],[22.9,158],[27.5,158],[31.6,97],[36.7,110],[42.8,91],[47.9,73],[52,65],[56,41],[59.1,37],[62.1,65],[67.2,77],[76.4,73],[78.4,110],[84.5,91],[96.7,88],[99.8,49],[110,47],[120.2,41],[130.3,43],[135.4,29],[157.6,22],[180,14],[200,13],[240,12],[272,19],[274.6,70],[279,79],[283.5,116],[287.9,158],[292.8,155],[294.1,118],[295.9,118],[305,95],[315,70],[325,60],[335,50],[343.8,41],[352.7,37],[361.5,25],[374.8,13],[392.6,19],[407.6,25],[411.2,61],[417.4,71],[420.9,128],[424,206],[427.6,221],[430.2,206],[437.3,194],[440,152],[443.1,79],[447.5,37],[459,19],[463,37],[465.2,110],[469.7,73],[474.1,73],[478.6,79],[481.2,67],[484.4,43],[490.2,24],[495,13],[519.1,7],[523.9,17],[538.4,17],[553.8,10],[556.7,17],[575,17]];

const VOL_MA60 = [[39.5,176],[45.8,172],[48.9,152],[55,143],[58.1,116],[67.2,103],[71.3,79],[79.4,79],[87.6,73],[99.8,67],[110,70],[116,70],[123.2,58],[130.3,55],[137.5,43],[150.7,31],[157.6,31],[166.5,25],[184.2,17],[199.3,11],[272,17],[274.6,29],[290.6,55],[295.9,67],[300,70],[320,60],[343.8,55],[352.7,49],[366,34],[374.8,25],[397,25],[416.5,41],[421.8,79],[425.4,85],[450.2,91],[459,97],[467.9,106],[475,97],[478.6,91],[481.2,67],[482.5,55],[487.3,43],[498.9,37],[515.3,34],[522,31],[526.8,17],[553.8,12],[577,13]];

const VOL_MA120 = [[99.3,122],[105.9,118],[110,110],[116.1,103],[120.2,85],[128.3,77],[134.4,61],[144.6,58],[157.6,49],[168.2,46],[182.4,37],[196.6,34],[200.2,25],[272,17],[295.9,37],[310,45],[330,52],[343.8,55],[391.7,55],[396.1,43],[407.6,34],[414.7,41],[420.9,55],[432.4,61],[476.7,65],[527.3,64],[538.4,53],[544.2,31],[553.8,25],[577.9,24]];

const HLINE_TOP = 129.316;
const HLINE_BOTTOM = 117.843;

const C_PINK = "#FFE5DE", C_BLUE = "#E3F7FE", C_UP = "#DC2318", C_DOWN = "#1F5FC0", C_CLOUD = "#3366FF";
const money = (v: number) => Math.round(v * 1000).toLocaleString("en-US");

const bands = (xAxisIndex: number, yAxisIndex: number) => ({
  type: "custom", xAxisIndex, yAxisIndex, z: 0, silent: true, clip: false,
  data: BAND_EDGES.slice(0, -1).map((e, i) => [e, BAND_EDGES[i + 1], i % 2]),
  encode: { x: [0, 1] },
  renderItem: (params: any, api: any) => {
    const cs = params.coordSys;
    const a = api.coord([api.value(0), 100])[0];
    const b = api.coord([api.value(1), 100])[0];
    return { type: "rect", shape: { x: a, y: cs.y, width: b - a, height: cs.height }, style: { fill: api.value(2) ? C_BLUE : C_PINK } };
  },
});

const line = (name: string, data: number[][], color: string, width: number, grid = 0, z = 4) => ({
  name, type: "line", data, xAxisIndex: grid + 2, yAxisIndex: grid, symbol: "none", z, silent: true,
  lineStyle: { color, width }, itemStyle: { color },
});

const txt = (text: string, x: number, y: number, fill: string, extra: any = {}) => ({
  type: "text", z: 100, silent: true, x, y,
  style: { text, fill, font: `${extra.size || 12}px ${FONT}`, textAlign: extra.align || "left", textVerticalAlign: "middle" },
});
const poly = (points: number[][], fill: string) => ({ type: "polygon", z: 100, silent: true, shape: { points }, style: { fill } });
const rect = (x: number, y: number, width: number, height: number, fill: string, stroke?: string) => ({ type: "rect", z: 99, silent: true, shape: { x, y, width, height }, style: { fill, stroke } });
const seg = (x1: number, y1: number, x2: number, y2: number, stroke: string, lineWidth = 1) => ({ type: "line", z: 99, silent: true, shape: { x1, y1, x2, y2 }, style: { stroke, lineWidth } });

export default function App() {
  const ref = useRef<HTMLDivElement>(null);
  useEffect(() => {
    document.body.style.margin = "0";
    document.body.style.overflow = "hidden";
    const chart = echarts.init(ref.current!, undefined, { renderer: "svg" });
    const categories = Array.from({ length: SLOTS }, (_, i) => {
      const k = MONTH_INDEX.indexOf(i);
      return k >= 0 ? MONTH_LABELS[k] : "";
    });
    const isMonth = (i: number) => MONTH_INDEX.includes(i);
    const gridSplit = { show: true, interval: isMonth, alignWithLabel: true, lineStyle: { color: "#D4D4D4", width: 1 } };
    const minorPrice: number[] = [];
    for (let v = 56; v <= 248; v += 4) if (v % 20 !== 0) minorPrice.push(v);
    const minorVol: number[] = [];
    for (let v = 20; v <= 780; v += 20) if (v % 100 !== 0) minorVol.push(v);
    const axisStyle = { color: "#8A8A8A", width: 1 };
    const labelStyle = { color: "#4A4A4A", fontFamily: FONT, fontSize: 12 };

    chart.setOption({
      animation: false,
      grid: [
        { left: PLOT_L, top: 0, width: PLOT_R - PLOT_L, height: 849 },
        { left: PLOT_L, top: 850, width: PLOT_R - PLOT_L, height: 222 },
      ],
      xAxis: [
        { type: "category", gridIndex: 0, data: categories, z: 1, axisLine: { show: false }, axisTick: { show: false }, axisLabel: { show: false }, splitLine: gridSplit },
        {
          type: "category", gridIndex: 1, data: categories, z: 1, offset: 2,
          axisLine: { show: true, lineStyle: axisStyle },
          axisTick: { show: true, interval: isMonth, alignWithLabel: true, length: 19, lineStyle: axisStyle },
          axisLabel: { show: true, interval: isMonth, align: "left", margin: 3, padding: [0, 0, 0, 3], ...labelStyle },
          splitLine: gridSplit,
        },
        { type: "value", gridIndex: 0, show: false, min: -0.5, max: SLOTS - 0.5 },
        { type: "value", gridIndex: 1, show: false, min: -0.5, max: SLOTS - 0.5 },
      ],
      yAxis: [
        {
          type: "value", gridIndex: 0, position: "right", min: 53.39, max: 251.06, z: 1,
          axisLine: { show: true, lineStyle: axisStyle },
          axisTick: { show: true, length: 7, customValues: PRICE_TICKS, lineStyle: axisStyle },
          axisLabel: { show: true, customValues: PRICE_TICKS, margin: 9, formatter: money, ...labelStyle },
          splitLine: { show: true, lineStyle: { color: "#D4D4D4", width: 1 } },
        },
        {
          type: "value", gridIndex: 1, position: "right", min: 0, max: 801, z: 1,
          axisLine: { show: true, lineStyle: axisStyle },
          axisTick: { show: true, length: 7, customValues: VOLUME_TICKS, lineStyle: axisStyle },
          axisLabel: { show: true, customValues: VOLUME_TICKS, margin: 9, formatter: money, ...labelStyle },
          splitLine: { show: true, lineStyle: { color: "#D4D4D4", width: 1 } },
        },
        {
          type: "value", gridIndex: 0, position: "right", min: 53.39, max: 251.06, z: 1,
          axisLine: { show: false }, axisLabel: { show: false }, splitLine: { show: false },
          axisTick: { show: true, length: 3, customValues: minorPrice, lineStyle: axisStyle },
        },
        {
          type: "value", gridIndex: 1, position: "right", min: 0, max: 801, z: 1,
          axisLine: { show: false }, axisLabel: { show: false }, splitLine: { show: false },
          axisTick: { show: true, length: 3, customValues: minorVol, lineStyle: axisStyle },
        },
      ],
      series: [
        bands(2, 0),
        bands(3, 1),
        {
          type: "custom", xAxisIndex: 2, yAxisIndex: 0, z: 2, silent: true, data: CLOUD,
          encode: { x: 0, y: [1, 2] },
          renderItem: (params: any, api: any) => {
            if (params.dataIndex !== 0) return null;
            const top = CLOUD.map((r) => api.coord([r[0], r[1]]));
            const bottom = CLOUD.map((r) => api.coord([r[0], r[2]])).reverse();
            return { type: "polygon", shape: { points: top.concat(bottom) }, style: { fill: C_CLOUD } };
          },
        },
        line("선행", SPAN_LEAD, "#3A5FD8", 2, 0, 2),
        line("60", MA_YELLOW, "#FFFF33", 4, 0, 2.5),
        {
          type: "candlestick", xAxisIndex: 0, yAxisIndex: 0, z: 3, silent: true, barWidth: 3, data: CANDLES,
          itemStyle: { color: C_UP, color0: C_DOWN, borderColor: C_UP, borderColor0: C_DOWN, borderWidth: 1 },
        },
        line("5", MA_RED, "#D02020", 1),
        line("20", MA_ORANGE, "#EE9A2E", 1),
        line("120", MA_GREEN, "#1E8C3C", 1),
        line("240", MA_NAVY, "#0000A0", 1),
        line("480", MA_BLACK, "#000000", 4),
        line("gray", MA_GRAY, "#8C8C8C", 2),
        line("upper", BOLL_UPPER, "#8B3A6B", 2, 0, 5),
        line("lower", BOLL_LOWER, "#8B3A6B", 2, 0, 5),
        line("hi", [[-0.5, HLINE_TOP], [SLOTS - 0.5, HLINE_TOP]], "#C8202A", 2, 0, 6),
        line("lo", [[-0.5, HLINE_BOTTOM], [SLOTS - 0.5, HLINE_BOTTOM]], "#E81010", 2, 0, 6),
        {
          type: "bar", xAxisIndex: 1, yAxisIndex: 1, z: 3, silent: true, barWidth: 2.8,
          data: VOLUME.map((v, i) => {
            const c = CANDLES[i];
            return { value: v, itemStyle: { color: c && c[1] >= c[0] ? C_UP : C_DOWN } };
          }),
        },
        line("vol5", VOL_MA5, "#CC33BB", 1, 1),
        line("vol20", VOL_MA20, "#F0A830", 1, 1),
        line("vol60", VOL_MA60, "#2E8B40", 1, 1),
        line("vol120", VOL_MA120, "#888888", 1, 1),
      ],
      graphic: [
        seg(5.5, 0, 5.5, 1074, "#9A9A9A"),
        seg(5.5, 849.5, 2308, 849.5, "#9A9A9A"),
        seg(0, 1092.5, W, 1092.5, "#8A8A8A"),
        rect(16, 0, 53, 2, "#F0F0F0", "#AAAAAA"),
        rect(11.5, 5.5, 13, 13, "#C8C8C8", "#000000"),
        seg(11.5, 9.5, 24.5, 9.5, "#555555"), seg(11.5, 13.5, 24.5, 13.5, "#555555"),
        seg(15.5, 5.5, 15.5, 18.5, "#555555"), seg(20.5, 5.5, 20.5, 18.5, "#555555"),
        poly([[48, 23.5], [54, 18.5], [54, 22.5], [60, 22.5], [60, 24.5], [54, 24.5], [54, 28.5]], "#DC1E14"),
        txt("최고 246,500 (08/13)", 61, 23, "#C8281E"),
        txt("배당락(0,00%)", 346, 330, "#5E5E5E"),
        poly([[380, 351], [390, 351], [385, 357]], "#E8141E"),
        txt("배당락(0,00%)", 1268, 412, "#5E5E5E"),
        poly([[1302, 433], [1312, 433], [1307, 439]], "#E8141E"),
        txt("최저 69,000 (03/23)", 1394, 777, "#1C1C9C"),
        seg(1505, 778.5, 1515, 778.5, "#1C1C9C"),
        poly([[1514, 773.5], [1520, 778.5], [1514, 783.5]], "#0000D0"),
        txt("129,316", 8, 513, "#C8281E"),
        txt("117,843", 8, 562, "#C8281E"),
        txt("전환선 9: 119,250", 2303, 31, "#1A8A78", { align: "right" }),
        txt("기준선 26: 119,000", 2303, 43, "#7A7A7A", { align: "right" }),
        txt("후행스팬 26: 115,000", 2303, 55, "#8A2FB0", { align: "right" }),
        txt("선행스팬1 9,26: 119,125", 2303, 67, "#3A60C8", { align: "right" }),
        txt("선행스팬2 52,26: 119,000", 2303, 79, "#3A60C8", { align: "right" }),
        txt("HC:-53,35", 2310, 7, "#2B5FC4"),
        rect(2313, 576, 55, 13, "#1B5FC8"),
        txt("115,000", 2316, 582.5, "#FFFFFF"),
        txt("-0,86%", 2317, 595, "#2B5FC4"),
        rect(2313, 1048, 55, 13, "#1B5FC8"),
        txt("4,097", 2316, 1054.5, "#FFFFFF"),
        txt("44,35%", 2317, 1067, "#2B5FC4"),
        rect(2363, 853, 5, 7, "#444444"),
        rect(9.5, 855.5, 4, 5, "#999999", "#777777"),
        txt("거래량", 20, 858, "#2F8F84"),
        txt("단순", 64, 858, "#CC33BB"),
        txt("5", 92, 858, "#CC33BB"),
        txt("20", 107, 858, "#E0A020"),
        txt("60", 126, 858, "#2E8B40"),
        txt("120", 147, 858, "#888888"),
        txt("4,097주(44,35%)", 11, 871, "#333333"),
        txt("12/07", 2317, 1082, "#4A4A4A"),
      ],
    });
    return () => chart.dispose();
  }, []);

  const panel = (style: React.CSSProperties) => <div style={{ position: "absolute", ...style }} />;
  return (
    <div style={{ position: "relative", width: W, height: H, background: "#FFFFFF", overflow: "hidden" }}>
      {panel({ left: 0, top: 0, width: 5, height: H, background: "#E8E8E8" })}
      {panel({ left: PLOT_R, top: 0, width: W - PLOT_R, height: H, background: "#D6E1EF" })}
      {panel({ left: 0, top: 1074, width: W, height: H - 1074, background: "#D6E1EF" })}
      <div ref={ref} style={{ position: "absolute", left: 0, top: 0, width: W, height: H }} />
    </div>
  );
}
